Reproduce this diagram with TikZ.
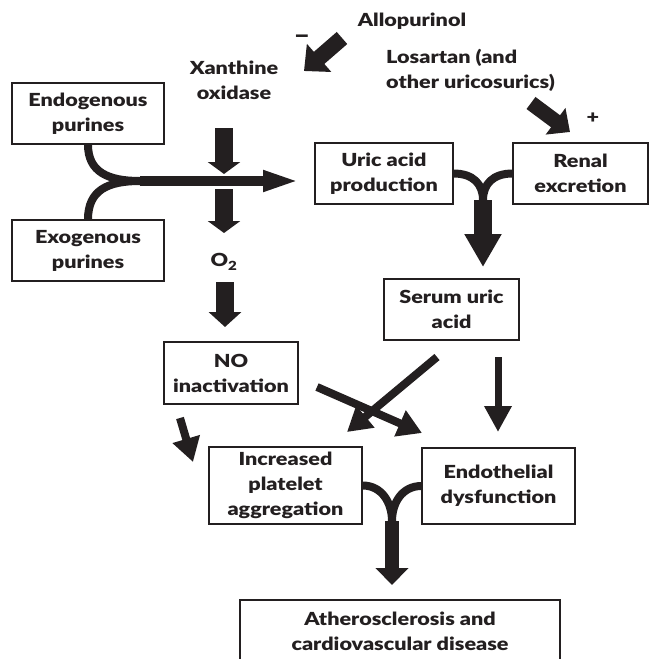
\documentclass[tikz,border=0pt]{standalone}
\usepackage{fontspec}
\setmainfont{Lato}[BoldFont={Lato Black}, FakeStretch=1.2]
\usetikzlibrary{arrows.meta}
\definecolor{ink}{RGB}{35,31,32}
\tikzset{
  txt/.style={font=\bfseries\fontsize{18}{25}\selectfont, text=ink, align=center, inner sep=0pt},
  box/.style={txt, draw=ink, line width=1.2pt, fill=white},
  curve/.style={draw=ink, line width=8pt},
  fat/.style={draw=ink, line width=18pt, -{Triangle[length=12pt,width=32pt]}},
  thin/.style={draw=ink, line width=8pt, -{Triangle[length=24pt,width=27pt]}}
}
\begin{document}
\begin{tikzpicture}[x=1pt,y=-1pt]
\useasboundingbox (0,0) rectangle (649,659);
% boxes
\node[box, minimum width=152pt, minimum height=61pt] (endo) at (88,113.5) {Endogenous\\purines};
\node[box, minimum width=152pt, minimum height=61pt] (exo) at (88,250.5) {Exogenous\\purines};
\node[box, minimum width=138pt, minimum height=61pt] (uric) at (384,173.5) {Uric acid\\production};
\node[box, minimum width=135pt, minimum height=61pt] (renal) at (580.5,173.5) {Renal\\excretion};
\node[box, minimum width=135pt, minimum height=61pt] (serum) at (451.5,309.5) {Serum uric\\acid};
\node[box, minimum width=134pt, minimum height=62pt] (noin) at (231,373) {NO\\inactivation};
\node[box, minimum width=153pt, minimum height=77pt] (plat) at (285.5,485.5) {Increased\\platelet\\aggregation};
\node[box, minimum width=153pt, minimum height=76pt] (endoth) at (498.5,486) {Endothelial\\dysfunction};
\node[box, minimum width=320pt, minimum height=62pt] (ather) at (400,631) {Atherosclerosis and\\cardiovascular disease};
% labels
\node[txt] (allo) at (412,21) {Allopurinol};
\node[txt, font=\bfseries\fontsize{24}{25}\selectfont] (minus) at (302,39) {–};
\node[txt] (xo) at (234,80) {Xanthine\\oxidase};
\node[txt, align=left, anchor=west] (los) at (386,70) {Losartan (and\\other uricosurics)};
\node[txt] (plus) at (593,118) {+};
\node[txt] (o2) at (224,262) {O\textsubscript{2}};
% coordinates
\coordinate (j1) at (140,181);
\coordinate (t1) at (300,181);
\coordinate (a1s) at (224,128); \coordinate (a1e) at (224,174);
\coordinate (a2s) at (224,189); \coordinate (a2e) at (224,233);
\coordinate (a3s) at (225,282); \coordinate (a3e) at (225,327);
\coordinate (a4s) at (342,38);  \coordinate (a4e) at (304,71);
\coordinate (a5s) at (531,103); \coordinate (a5e) at (570,132);
\coordinate (j2) at (483,200);  \coordinate (a6e) at (483,267);
\coordinate (j3) at (392,521);  \coordinate (a7e) at (392,585);
\coordinate (a8s) at (317,387); \coordinate (a8e) at (422,433);
\coordinate (a9s) at (437,357); \coordinate (a9e) at (347,432);
\coordinate (a10s) at (498,357); \coordinate (a10e) at (498,432);
\coordinate (a11s) at (180,418); \coordinate (a11e) at (193,462);
% purine merge
\draw[curve] (endo.south) .. controls (88,172) and (108,181) .. (j1);
\draw[curve] (exo.north) .. controls (88,190) and (108,181) .. (j1);
\draw[draw=ink, line width=10pt, -{Triangle[length=37pt,width=19pt]}] (j1) -- (t1);
% xanthine oxidase arrows
\draw[fat] (a1s) -- (a1e);
\draw[fat] (a2s) -- (a2e);
\draw[fat, -{Triangle[length=15pt,width=32pt]}] (a3s) -- (a3e);
% drugs
\draw[fat, line width=16pt, -{Triangle[length=20pt,width=36pt]}] (a4s) -- (a4e);
\draw[fat, line width=15pt, -{Triangle[length=18pt,width=32pt]}] (a5s) -- (a5e);
% uric merge
\draw[curve] (uric.east) .. controls (473,173.5) and (483,184) .. (j2);
\draw[curve] (renal.west) .. controls (493,173.5) and (483,184) .. (j2);
\draw[fat, -{Triangle[length=33pt,width=35pt]}] (j2) -- (a6e);
% bottom merge
\draw[curve] (plat.east) .. controls (382,485.5) and (392,503) .. (j3);
\draw[curve] (endoth.west) .. controls (402,486) and (392,503) .. (j3);
\draw[fat, line width=14pt, -{Triangle[length=17pt,width=32pt]}] (j3) -- (a7e);
% thin arrows
\draw[thin] (a8s) -- (a8e);
\draw[thin] (a9s) -- (a9e);
\draw[thin, line width=7pt, -{Triangle[length=26pt,width=26pt]}] (a10s) -- (a10e);
\draw[thin] (a11s) -- (a11e);
\end{tikzpicture}
\end{document}
